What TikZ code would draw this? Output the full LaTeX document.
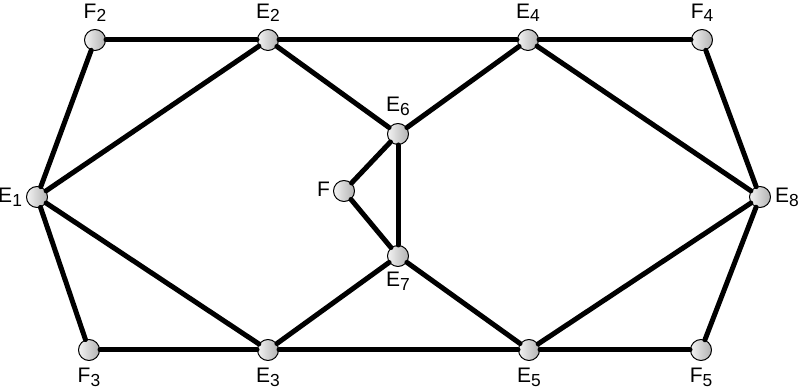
\documentclass[tikz,border=0pt]{standalone}
\usepackage{fontspec}
\setmainfont{Liberation Sans}
\usepackage{tikz}
\usetikzlibrary{shadings}

\newcommand{\vlab}[2]{\fontsize{10.5}{12}\selectfont #1\raisebox{-1.9pt}{\fontsize{8.7}{9}\selectfont #2}}

\begin{document}
\begin{tikzpicture}[
  x=0.5pt, y=-0.5pt,
  line cap=round,
  line join=round,
  vert/.style={circle,draw=black,line width=0.5pt,minimum size=10.5pt,inner sep=0pt,
    left color=gray!10,right color=gray!60},
  edge/.style={draw=black,line width=2.5pt},
  label distance=0pt
]
\useasboundingbox (0,0) rectangle (798,389);

% upper row
\node[vert,label={above:\vlab{F}{2}}] (F2) at (95,40) {};
\node[vert,label={above:\vlab{E}{2}}] (E2) at (268,40) {};
\node[vert,label={above:\vlab{E}{4}}] (E4) at (528,40) {};
\node[vert,label={above:\vlab{F}{4}}] (F4) at (702,40) {};

% left and right ends
\node[vert,label={[label distance=-1.5pt]left:\vlab{E}{1}}] (E1) at (37,197) {};
\node[vert,label={[label distance=-1.5pt]right:\vlab{E}{8}}] (E8) at (760,197) {};

% middle part
\node[vert,label={above:\vlab{E}{6}}] (E6) at (398,134) {};
\node[vert,label={[label distance=-2pt]left:\vlab{F}{}}] (F) at (344,191) {};
\node[vert,label={[label distance=-1pt]below:\vlab{E}{7}}] (E7) at (398,256) {};

% lower row
\node[vert,label={below:\vlab{F}{3}}] (F3) at (89,350) {};
\node[vert,label={below:\vlab{E}{3}}] (E3) at (268,350) {};
\node[vert,label={below:\vlab{E}{5}}] (E5) at (529,350) {};
\node[vert,label={below:\vlab{F}{5}}] (F5) at (701,350) {};

% edges
\draw[edge] (F2) -- (E2);
\draw[edge] (E2) -- (E4);
\draw[edge] (E4) -- (F4);
\draw[edge] (F3) -- (E3);
\draw[edge] (E3) -- (E5);
\draw[edge] (E5) -- (F5);
\draw[edge] (E1) -- (F2);
\draw[edge] (E1) -- (E2);
\draw[edge] (E1) -- (F3);
\draw[edge] (E1) -- (E3);
\draw[edge] (E8) -- (F4);
\draw[edge] (E8) -- (E4);
\draw[edge] (E8) -- (F5);
\draw[edge] (E8) -- (E5);
\draw[edge] (E2) -- (E6);
\draw[edge] (E6) -- (E4);
\draw[edge] (E3) -- (E7);
\draw[edge] (E7) -- (E5);
\draw[edge] (E6) -- (E7);
\draw[edge] (E6) -- (F);
\draw[edge] (F) -- (E7);

\end{tikzpicture}
\end{document}
